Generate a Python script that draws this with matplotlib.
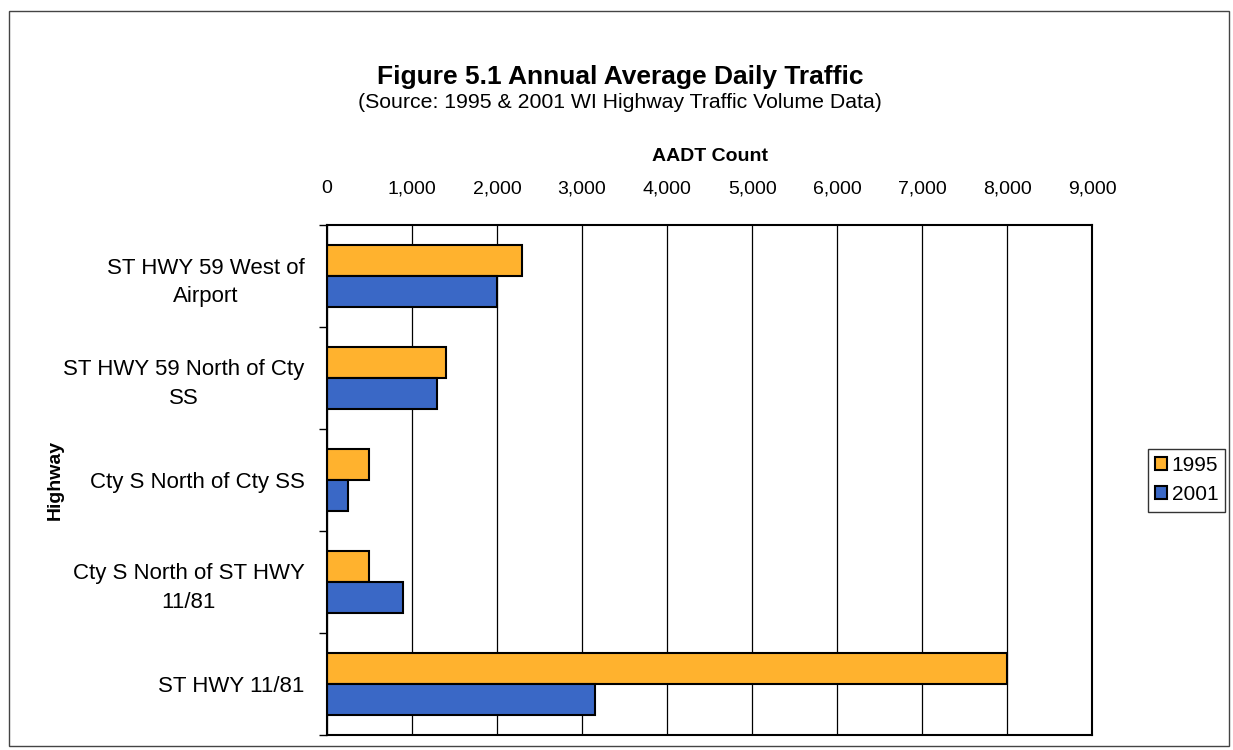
import numpy as np
import matplotlib.pyplot as plt
from matplotlib.patches import Rectangle
from matplotlib.ticker import FuncFormatter

plt.rcParams['font.family'] = ['Liberation Sans', 'DejaVu Sans']

# data
highways = ['ST HWY 59 West of\nAirport', 'ST HWY 59 North of Cty\nSS', 'Cty S North of Cty SS',
            'Cty S North of ST HWY\n11/81', 'ST HWY 11/81']
aadt_1995 = [2300, 1400, 500, 500, 8000]
aadt_2001 = [2000, 1300, 250, 900, 3150]

fig = plt.figure(figsize=(12.33, 7.5), dpi=100)
ax = fig.add_axes([0.265, 0.02, 0.621, 0.68])

y = np.arange(len(highways))
h = 0.3
ax.barh(y - h / 2, aadt_1995, height=h, color='#FFB22E', edgecolor='black', linewidth=1.5, label='1995')
ax.barh(y + h / 2, aadt_2001, height=h, color='#3A68C6', edgecolor='black', linewidth=1.5, label='2001')

ax.set_xlim(0, 9000)
ax.set_ylim(len(highways) - 0.5, -0.5)
ax.set_xticks(np.arange(0, 9001, 1000))
ax.xaxis.set_major_formatter(FuncFormatter(lambda v, p: f'{int(v):,}'))
ax.xaxis.tick_top()
ax.xaxis.set_label_position('top')
ax.tick_params(axis='x', length=0, labelsize=14, pad=20)
ax.grid(axis='x', color='black', linewidth=0.9)
ax.set_axisbelow(True)

ax.set_yticks(y)
ax.set_yticklabels(highways, fontsize=16, multialignment='center', linespacing=1.45)
ax.set_yticks(np.arange(-0.5, len(highways)), minor=True)
ax.tick_params(axis='y', which='major', length=0, pad=16)
ax.tick_params(axis='y', which='minor', length=6, width=1)

for s in ax.spines.values():
    s.set_linewidth(1.5)

ax.set_xlabel('AADT Count', fontsize=14, fontweight='bold', labelpad=14)
ax.set_ylabel('Highway', fontsize=14, fontweight='bold')
ax.yaxis.set_label_coords(-0.343, 0.5)

fig.text(0.503, 0.888, 'Figure 5.1 Annual Average Daily Traffic', ha='center', fontsize=19, fontweight='bold')
fig.text(0.503, 0.856, '(Source: 1995 & 2001 WI Highway Traffic Volume Data)', ha='center', fontsize=15.3)

ax.legend(loc='center left', bbox_to_anchor=(1.072, 0.5), borderaxespad=0, fontsize=15, frameon=True,
          fancybox=False, edgecolor='black', handlelength=0.6, handleheight=0.6, handletextpad=0.2,
          borderpad=0.35, labelspacing=0.5)

fig.patches.append(Rectangle((0.007, 0.005), 0.99, 0.98, transform=fig.transFigure,
                             fill=False, edgecolor='#444444', linewidth=1))

fig.savefig('out.png', dpi=100)
